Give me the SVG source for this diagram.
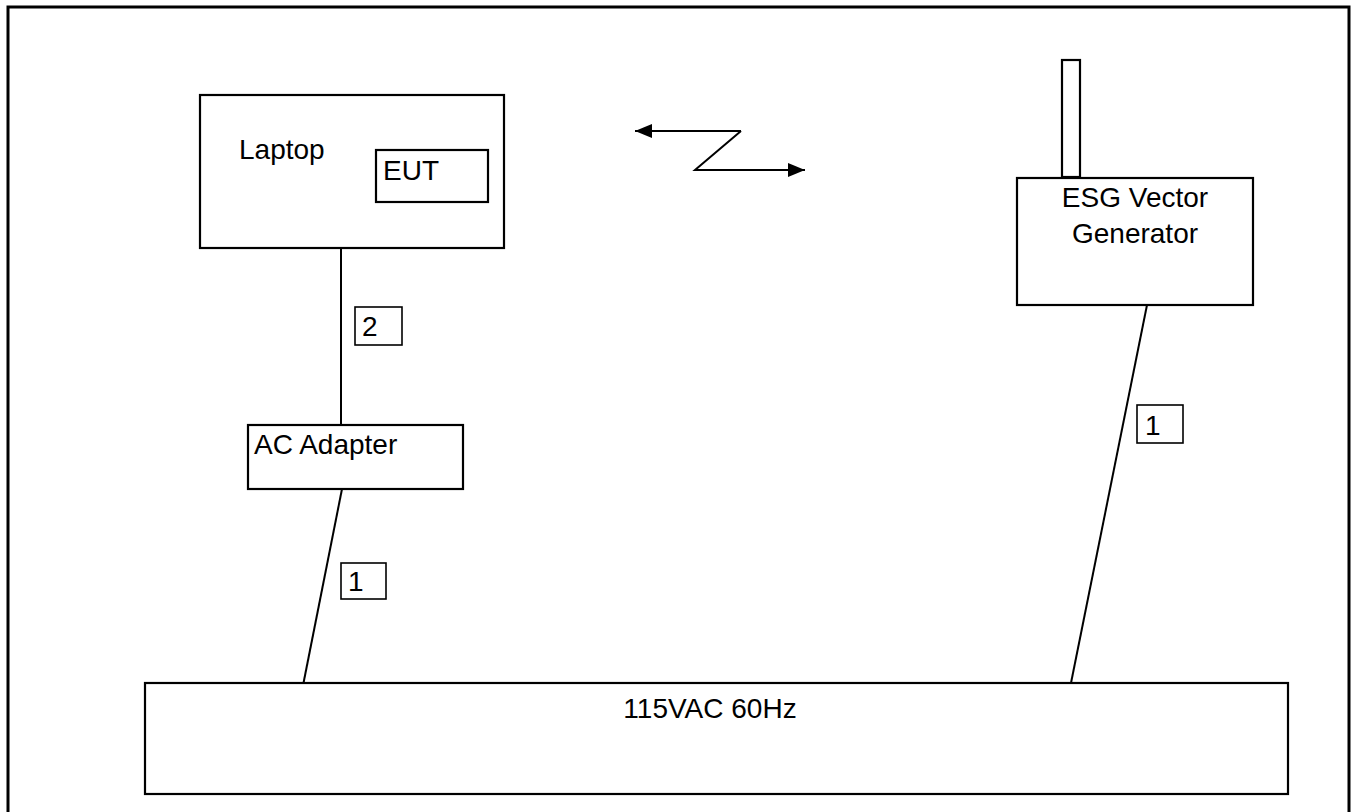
<svg xmlns="http://www.w3.org/2000/svg" width="1351" height="812" viewBox="0 0 1351 812">
<defs>
<style>
.box{fill:#fff;stroke:#000;stroke-width:2.2}
.lbl{fill:none;stroke:#000;stroke-width:1.6}
.wire{fill:none;stroke:#000;stroke-width:2}
text{font-family:"Liberation Sans",Arial,sans-serif;font-size:28px;fill:#000}
</style>
<marker id="ah" viewBox="0 0 17 14" refX="17" refY="7" markerWidth="17" markerHeight="14" markerUnits="userSpaceOnUse" orient="auto">
<path d="M0,0 L17,7 L0,14 Z" fill="#000"/>
</marker>
</defs>
<rect width="1351" height="812" fill="#fff"/>
<path d="M8,812 V7 H1349 V812" fill="none" stroke="#000" stroke-width="3"/>
<g id="connectors">
<line class="wire" x1="341" y1="248" x2="341" y2="425"/>
<line class="wire" x1="342" y1="489" x2="303.5" y2="683"/>
<line class="wire" x1="1147" y1="305" x2="1071" y2="683"/>
<path class="wire" d="M741,131 H635" marker-end="url(#ah)"/>
<path class="wire" d="M741,131 L695,170 H805" marker-end="url(#ah)"/>
</g>
<g id="laptop">
<rect class="box" x="200" y="95" width="304" height="153"/>
<text x="239" y="159">Laptop</text>
</g>
<g id="eut">
<rect class="box" x="376" y="150" width="112" height="52"/>
<text x="383" y="180">EUT</text>
</g>
<g id="ac-adapter">
<rect class="box" x="248" y="425" width="215" height="64"/>
<text x="254" y="454">AC Adapter</text>
</g>
<g id="esg">
<rect class="box" x="1062" y="60" width="18" height="117"/>
<rect class="box" x="1017" y="178" width="236" height="127"/>
<text x="1135" y="207" text-anchor="middle">ESG Vector</text>
<text x="1135" y="243" text-anchor="middle">Generator</text>
</g>
<g id="mains">
<rect class="box" x="145" y="683" width="1143" height="111"/>
<text x="710" y="718" text-anchor="middle">115VAC 60Hz</text>
</g>
<g id="label-2">
<rect class="lbl" x="355" y="307" width="47" height="38"/>
<text x="362" y="336">2</text>
</g>
<g id="label-1a">
<rect class="lbl" x="341" y="563" width="45" height="36"/>
<text x="348" y="591">1</text>
</g>
<g id="label-1b">
<rect class="lbl" x="1137" y="405" width="46" height="38"/>
<text x="1145" y="435">1</text>
</g>
</svg>
